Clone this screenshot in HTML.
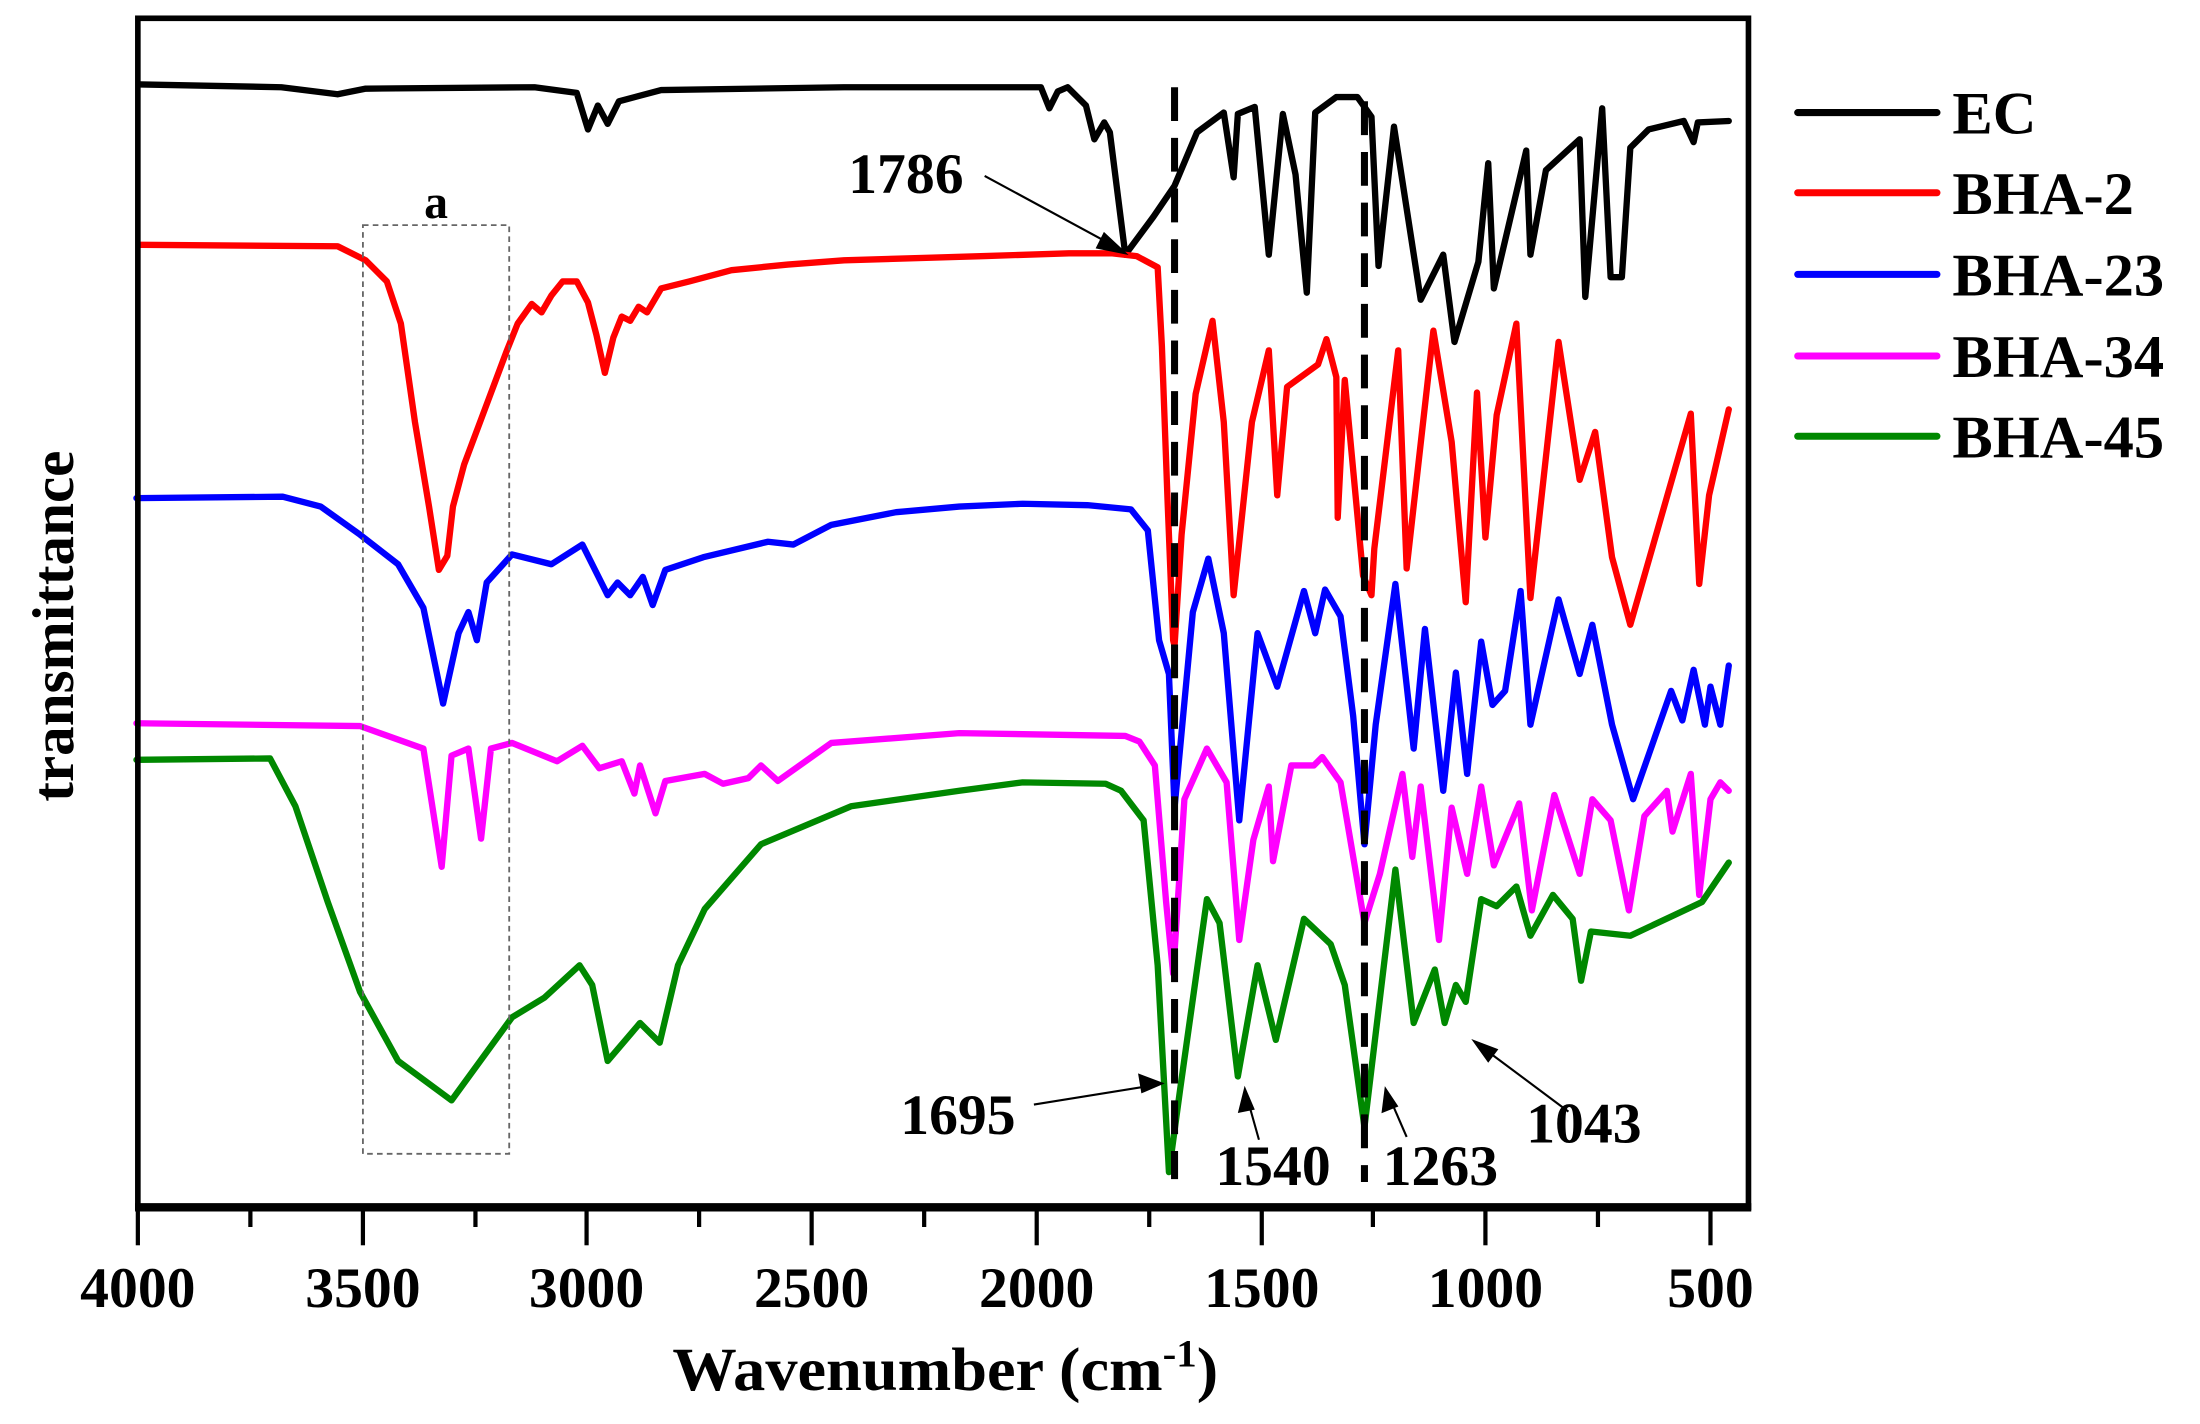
<!DOCTYPE html>
<html><head><meta charset="utf-8"><style>
html,body{margin:0;padding:0;background:#fff;}
svg{display:block;}
text{font-family:"Liberation Serif",serif;font-weight:bold;fill:#000;}
</style></head><body>
<svg width="2200" height="1424" viewBox="0 0 1564 1012" preserveAspectRatio="none" xmlns="http://www.w3.org/2000/svg">
<rect width="1564" height="1012" fill="#fff"/>
<g fill="none" stroke-width="4.5" stroke-linejoin="round" stroke-linecap="round">
<polyline stroke="#000" points="100,60 200,62 240,67 260,63 380,62 410,66 418,92 425,75 432,88 440,72 470,64 600,62 740,62 746,77 752,65 759,62 772,75 778,99 785,87 789,94 800,181 820,154 835,132 851,94 870,80 877,126 880,81 892,76 902,181 912,81 921,124 929,208 935,80 950,69 965,69 975,83 980,189 991,90 1010,213 1026,181 1034,243 1051,186 1058,116 1062,205 1085,107 1088,181 1099,121 1123,99 1127,211 1139,77 1145,197 1153,197 1159,105 1172,92 1197,86 1204,101 1207,87 1229,86"/>
<polyline stroke="#f00" points="100,174 240,175 260,185 275,200 285,230 295,300 305,360 312,405 318,395 322,360 330,330 345,290 360,250 368,230 378,216 385,222 392,210 400,200 410,200 418,215 424,238 430,265 436,240 442,225 448,228 454,218 460,222 470,205 490,200 520,192 560,188 600,185 700,182 760,180 790,180 808,182 823,190 826,246 830,355 834,455 835,459 840,380 850,280 862,228 870,300 877,423 890,300 902,249 908,352 915,275 937,259 943,241 950,268 951,368 956,270 969,409 975,423 977,390 994,249 1000,404 1019,235 1032,314 1042,428 1050,279 1056,382 1064,295 1078,230 1088,425 1108,243 1123,341 1134,307 1146,396 1159,444 1202,294 1208,415 1215,352 1229,291"/>
<polyline stroke="#00f" points="97,354 201,353 228,360 256,380 283,401 301,432 315,500 326,450 333,435 339,455 346,414 364,394 392,401 414,387 423,405 432,423 439,414 448,423 457,410 464,430 473,405 500,396 546,385 564,387 591,373 637,364 682,360 727,358 773,359 804,362 816,377 824,455 831,479 835,574 848,435 859,397 870,450 881,583 894,450 908,488 927,420 935,450 942,419 953,438 962,509 970,600 978,515 992,415 1005,532 1013,447 1026,562 1035,478 1043,550 1053,456 1061,501 1070,491 1081,420 1088,515 1108,426 1123,479 1132,444 1146,515 1161,568 1188,491 1196,512 1204,476 1212,515 1216,488 1223,515 1229,473"/>
<polyline stroke="#f0f" points="97,514 256,516 301,532 314,616 321,537 333,532 342,596 349,532 364,528 396,541 414,530 426,546 442,541 451,564 455,544 466,578 473,555 501,550 514,557 532,553 541,544 553,555 591,528 682,521 800,523 810,527 821,544 829,641 834,692 842,568 858,532 872,556 881,668 891,597 902,559 905,612 918,544 934,544 940,538 953,556 970,656 981,621 997,550 1004,609 1010,559 1023,668 1032,574 1043,621 1053,559 1062,615 1080,571 1089,647 1105,565 1123,621 1132,568 1145,583 1158,647 1169,580 1185,562 1189,591 1202,550 1208,636 1216,568 1223,556 1229,562"/>
<polyline stroke="#080" points="97,540 192,539 210,573 233,641 256,705 283,754 321,782 364,723 387,709 412,686 421,700 432,754 455,727 469,741 482,686 501,646 541,600 605,573 682,562 727,556 786,557 797,562 813,583 823,686 831,833 839,774 858,639 867,656 880,765 894,686 907,739 927,653 946,671 956,700 970,801 992,618 1005,727 1020,689 1027,727 1035,700 1042,712 1053,639 1064,644 1078,630 1088,665 1104,636 1118,653 1124,697 1131,662 1159,665 1191,650 1210,641 1229,613"/>
</g>
<line x1="835" y1="62" x2="835" y2="838" stroke="#000" stroke-width="5" stroke-dasharray="24,12"/>
<line x1="970" y1="72" x2="970" y2="840" stroke="#000" stroke-width="5" stroke-dasharray="24,12"/>
<rect x="258" y="160" width="104" height="660" fill="none" stroke="#666" stroke-width="1.3" stroke-dasharray="4,3"/>
<text x="310" y="155" font-size="34" text-anchor="middle">a</text>
<g stroke="#000" stroke-width="1.5" fill="#000">
<line x1="700" y1="125" x2="796" y2="177"/><polygon points="800,180 785,166 780,176"/>
<line x1="735" y1="785" x2="822" y2="771"/><polygon points="826,770 810,764 812,776"/>
<line x1="895" y1="810" x2="886" y2="778"/><polygon points="885,774 881,790 891,788"/>
<line x1="1000" y1="808" x2="987" y2="778"/><polygon points="985,774 983,790 993,786"/>
<line x1="1115" y1="790" x2="1052" y2="743"/><polygon points="1048,740 1058,754 1064,746"/>
</g>
<g font-size="41">
<text x="603" y="137">1786</text>
<text x="640" y="806">1695</text>
<text x="864" y="842">1540</text>
<text x="983" y="842">1263</text>
<text x="1085" y="812">1043</text>
</g>
<rect x="98" y="13" width="1145" height="845" fill="none" stroke="#000" stroke-width="4"/>
<line x1="96" y1="858" x2="1245" y2="858" stroke="#000" stroke-width="6"/>
<g stroke="#000" stroke-width="3">
<line x1="98" y1="858" x2="98" y2="885"/><line x1="258" y1="858" x2="258" y2="885"/><line x1="417" y1="858" x2="417" y2="885"/><line x1="577" y1="858" x2="577" y2="885"/><line x1="737" y1="858" x2="737" y2="885"/><line x1="897" y1="858" x2="897" y2="885"/><line x1="1056" y1="858" x2="1056" y2="885"/><line x1="1216" y1="858" x2="1216" y2="885"/>
<line x1="178" y1="858" x2="178" y2="872"/><line x1="338" y1="858" x2="338" y2="872"/><line x1="497" y1="858" x2="497" y2="872"/><line x1="657" y1="858" x2="657" y2="872"/><line x1="817" y1="858" x2="817" y2="872"/><line x1="976" y1="858" x2="976" y2="872"/><line x1="1136" y1="858" x2="1136" y2="872"/>
</g>
<g font-size="41" text-anchor="middle">
<text x="98" y="929">4000</text><text x="258" y="929">3500</text><text x="417" y="929">3000</text><text x="577" y="929">2500</text><text x="737" y="929">2000</text><text x="897" y="929">1500</text><text x="1056" y="929">1000</text><text x="1216" y="929">500</text>
</g>
<text x="478" y="988" font-size="44" textLength="388" lengthAdjust="spacingAndGlyphs">Wavenumber (cm<tspan font-size="28" dy="-17">-1</tspan><tspan dy="17">)</tspan></text>
<text transform="translate(52,445) rotate(-90)" font-size="42" text-anchor="middle">transmittance</text>
<g stroke-width="5" stroke-linecap="round">
<line x1="1278" y1="80" x2="1377" y2="80" stroke="#000"/>
<line x1="1278" y1="137" x2="1377" y2="137" stroke="#f00"/>
<line x1="1278" y1="195" x2="1377" y2="195" stroke="#00f"/>
<line x1="1278" y1="253" x2="1377" y2="253" stroke="#f0f"/>
<line x1="1278" y1="310" x2="1377" y2="310" stroke="#080"/>
</g>
<g font-size="43">
<text x="1388" y="95">EC</text><text x="1388" y="152">BHA-2</text><text x="1388" y="210">BHA-23</text><text x="1388" y="268">BHA-34</text><text x="1388" y="325">BHA-45</text>
</g>
</svg>
</body></html>
